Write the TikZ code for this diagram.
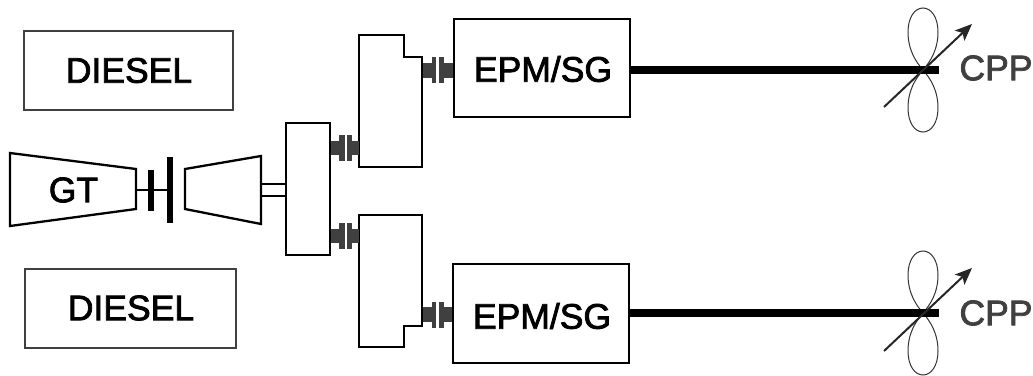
\documentclass[tikz,border=0pt]{standalone}
\usepackage{fontspec}
\setmainfont{Liberation Sans}
\newfontfamily\heavyfont[FakeBold=2.2]{Liberation Sans}
\usetikzlibrary{arrows.meta}
\definecolor{dk}{HTML}{404040}
\tikzset{
  x=1pt,y=-1pt,
  every node/.style={inner sep=0pt,outer sep=0pt},
  box/.style={draw=black,line width=2.3pt,fill=white},
  dbox/.style={draw=dk,line width=2.8pt,fill=white},
  lbl/.style={font=\heavyfont\fontsize{35.5}{37}\selectfont,text=black},
  cpplbl/.style={font=\heavyfont\fontsize{35.5}{37}\selectfont,text=dk},
  outline/.style={draw=black,line width=2.3pt,line join=miter},
  hub/.style={fill=dk,draw=none},
  bar/.style={draw=black,line width=6.5pt},
  mainshaft/.style={draw=black,line width=8pt},
  blade/.style={draw=black!80,line width=1pt},
  pitch/.style={draw=black!85,line width=2pt,-{Stealth[length=17pt,width=14pt,inset=4pt]}},
}
\begin{document}
\begin{tikzpicture}
\useasboundingbox (0,0) rectangle (1033,375);
% diesel
\node[dbox,minimum width=209pt,minimum height=79pt] (d1) at (128.5,70.5) {};
\node[lbl] (d1t) at (129,70.5) {DIESEL};
\node[dbox,minimum width=211pt,minimum height=79pt] (d2) at (130.5,308.5) {};
\node[lbl] (d2t) at (131,308) {DIESEL};
% GT
\coordinate (g1) at (10,153); \coordinate (g2) at (136,169); \coordinate (g3) at (136,209); \coordinate (g4) at (10,226);
\draw[outline] (g1) -- (g2) -- (g3) -- (g4) -- cycle;
\node[lbl] (gt) at (73.5,190) {GT};
% power turbine
\coordinate (t1) at (185,169); \coordinate (t2) at (261,156); \coordinate (t3) at (261,224); \coordinate (t4) at (185,209);
\draw[outline] (t1) -- (t2) -- (t3) -- (t4) -- cycle;
% clutch
\coordinate (b1a) at (151,170); \coordinate (b1b) at (151,211);
\coordinate (b2a) at (170,157); \coordinate (b2b) at (170,223);
\coordinate (gtout) at (136,190);
\draw[outline] (gtout) -- (b2a |- gtout);
\draw[bar] (b1a) -- (b1b);
\draw[bar] (b2a) -- (b2b);
% main gearbox
\node[box,minimum width=44pt,minimum height=132pt] (gb) at (308,189) {};
\draw[outline] (261,184) -- (gb.west |- 0,184);
\draw[outline] (261,196) -- (gb.west |- 0,196);
% secondary gearboxes
\coordinate (u1) at (359,35); \coordinate (u2) at (404,35); \coordinate (u3) at (404,57); \coordinate (u4) at (422,57); \coordinate (u5) at (422,167); \coordinate (u6) at (359,167);
\draw[outline,fill=white] (u1) -- (u2) -- (u3) -- (u4) -- (u5) -- (u6) -- cycle;
\coordinate (l1) at (359,215); \coordinate (l2) at (422,215); \coordinate (l3) at (422,326); \coordinate (l4) at (404,326); \coordinate (l5) at (404,347); \coordinate (l6) at (359,347);
\draw[outline,fill=white] (l1) -- (l2) -- (l3) -- (l4) -- (l5) -- (l6) -- cycle;
% EPM
\node[box,minimum width=176pt,minimum height=98pt] (e1) at (542,68) {};
\node[lbl] (e1t) at (543,69) {EPM/SG};
\node[box,minimum width=176pt,minimum height=99pt] (e2) at (541,313.5) {};
\node[lbl] (e2t) at (542,316) {EPM/SG};
% couplings
\foreach \yy in {147.5,236}{
  \fill[hub] (331,\yy-7) rectangle (339,\yy+7);
  \fill[hub] (339,\yy-13) rectangle (345,\yy+13);
  \fill[hub] (347,\yy-13) rectangle (352,\yy+13);
  \fill[hub] (352,\yy-7) rectangle (358.5,\yy+7);
}
\foreach \yy/\xe in {70/453,314.5/452}{
  \fill[hub] (423,\yy-7.5) rectangle (432,\yy+7.5);
  \fill[hub] (432,\yy-13) rectangle (436,\yy+13);
  \fill[hub] (439,\yy-13) rectangle (444,\yy+13);
  \fill[hub] (444,\yy-7.5) rectangle (\xe,\yy+7.5);
}
% propellers
\coordinate (p1) at (923,70); \coordinate (p2) at (923,313);
\foreach \pp in {p1,p2}{
  \begin{scope}[shift={(\pp)}]
    \draw[blade] (0,0) .. controls (-7,-8) and (-15,-20) .. (-15,-38) .. controls (-15,-53) and (-8,-62) .. (0,-62) .. controls (8,-62) and (15,-53) .. (15,-38) .. controls (15,-20) and (7,-8) .. (0,0);
    \draw[blade] (0,0) .. controls (-7,8) and (-15,20) .. (-15,38) .. controls (-15,53) and (-8,62) .. (0,62) .. controls (8,62) and (15,53) .. (15,38) .. controls (15,20) and (7,8) .. (0,0);
  \end{scope}
}
% main shafts
\coordinate (s1) at (939,70); \coordinate (s2) at (939,313);
\draw[mainshaft] (e1.east |- s1) -- (s1);
\draw[mainshaft] (e2.east |- s2) -- (s2);
% pitch arrows
\coordinate (a1s) at (884,107); \coordinate (a1e) at (972,24);
\coordinate (a2s) at (884,351); \coordinate (a2e) at (972,268);
\draw[pitch] (a1s) -- (a1e);
\draw[pitch] (a2s) -- (a2e);
\node[cpplbl] (c1) at (996,68) {CPP};
\node[cpplbl] (c2) at (996,313) {CPP};
\end{tikzpicture}
\end{document}
